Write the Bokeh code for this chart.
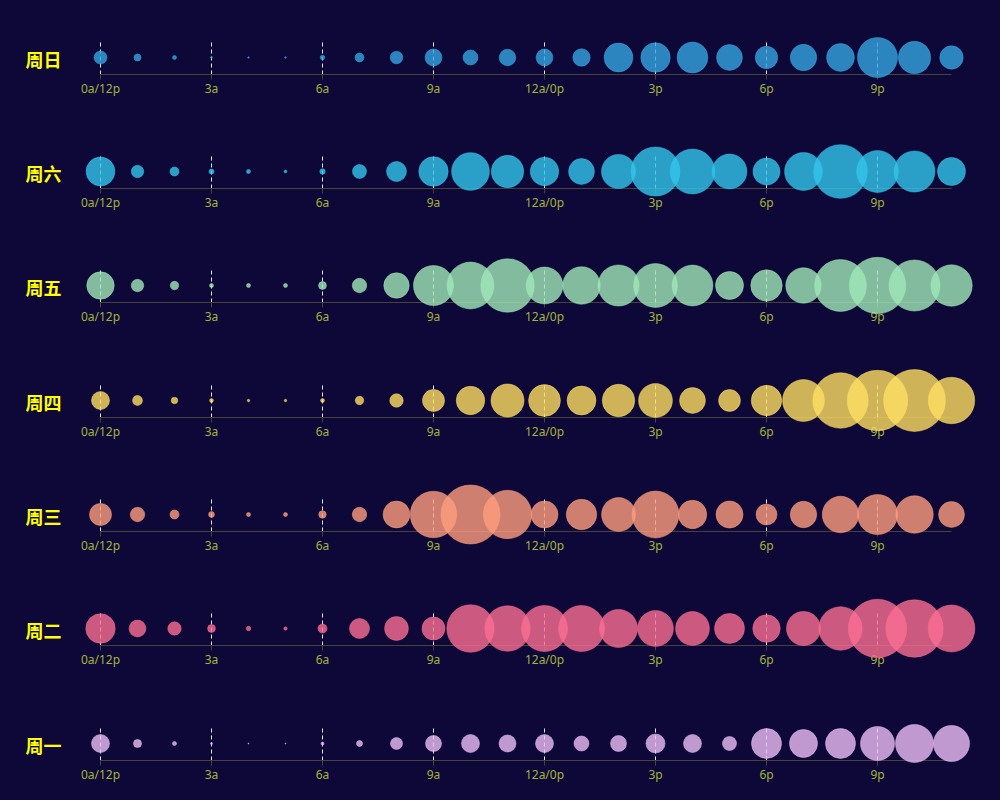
from bokeh.plotting import figure
from bokeh.layouts import column
from bokeh.models import Range1d, FixedTicker, ColumnDataSource, GlobalInlineStyleSheet
from bokeh.embed import file_html
from bokeh.resources import INLINE

BG = "#0e0838"

hours = list(range(24))
tick_hours = [0, 3, 6, 9, 12, 15, 18, 21]
tick_labels = ["0a/12p", "3a", "6a", "9a", "12a/0p", "3p", "6p", "9p"]
days = ["周日", "周六", "周五", "周四", "周三", "周二", "周一"]

sunday = [6.5, 3.5, 2.0, 1.0, 0.8, 0.8, 2.3, 4.5, 6.3, 8.5, 7.5, 8.3, 8.4, 8.7, 14.4, 14.7, 15.4, 12.9, 11.2, 13.2, 13.9, 20.0, 16.2, 11.7]
saturday = [14.4, 6.2, 4.5, 2.5, 2.0, 1.4, 2.7, 7.0, 10.0, 14.7, 18.9, 16.2, 14.2, 12.9, 17.0, 24.5, 22.4, 17.4, 13.5, 18.9, 26.9, 20.9, 20.5, 14.0]
friday = [13.7, 6.2, 4.2, 2.0, 2.0, 2.0, 3.9, 7.2, 12.7, 20.0, 23.4, 26.7, 18.4, 18.7, 20.5, 21.9, 20.4, 14.0, 15.7, 17.7, 25.9, 28.2, 25.5, 20.7]
thursday = [9.0, 4.9, 3.2, 1.9, 1.2, 1.2, 1.9, 4.2, 6.7, 11.0, 14.2, 16.5, 15.9, 14.4, 16.2, 16.9, 12.9, 10.9, 15.2, 20.9, 27.7, 30.2, 30.9, 23.2]
wednesday = [11.0, 7.2, 4.5, 2.9, 2.0, 2.0, 3.7, 7.2, 13.4, 23.2, 29.5, 24.2, 13.5, 15.2, 16.9, 23.4, 14.2, 13.5, 10.5, 13.2, 18.2, 20.0, 18.7, 12.9]
tuesday = [14.7, 8.4, 6.7, 3.9, 2.2, 1.7, 4.5, 10.0, 11.9, 11.5, 23.7, 22.7, 23.0, 23.0, 19.0, 17.9, 16.9, 15.0, 13.7, 17.0, 21.7, 29.2, 28.7, 23.4]
monday = [9.0, 4.0, 2.0, 1.0, 0.5, 0.5, 1.5, 3.0, 6.0, 8.0, 9.0, 8.5, 9.0, 7.5, 8.0, 9.5, 9.0, 7.0, 15.0, 14.0, 15.0, 17.0, 19.0, 18.0]

series = [sunday, saturday, friday, thursday, wednesday, tuesday, monday]
colors = ["#36a5e1", "#32c6ec", "#a0e8b8", "#ffdf62", "#ff9e7e", "#fb6e92", "#ecbef6"]
heights = [122, 114, 115, 114, 114, 115, 97]
tops = [40, 32, 32, 32, 32, 32, 32]

figs = []
for day, vals, col, h, t in zip(days, series, colors, heights, tops):
    src = ColumnDataSource(dict(x=hours, size=[v * 2 for v in vals]))
    p = figure(width=992, height=h,
               x_range=Range1d(-20 / 37, 888 / 37), y_range=Range1d(-17, 17),
               min_border_left=80, min_border_right=4, min_border_top=t,
               min_border_bottom=h - t - 34,
               toolbar_location=None, output_backend="svg",
               background_fill_color=BG, border_fill_color=BG,
               outline_line_color=None)
    r = p.scatter(x="x", y=0, size="size", source=src, marker="circle",
                  fill_color=col, fill_alpha=0.8, line_color=col, line_alpha=0.5)
    r.level = "overlay"

    xa = p.xaxis[0]
    xa.ticker = FixedTicker(ticks=tick_hours)
    xa.major_label_overrides = {t_: l for t_, l in zip(tick_hours, tick_labels)}
    xa.bounds = (0, 23)
    xa.axis_line_color = "#46443a"
    xa.major_tick_line_color = "#46443a"
    xa.major_tick_out = 5
    xa.major_tick_in = 0
    xa.minor_tick_line_color = None
    xa.major_label_standoff = 0
    xa.major_label_text_color = "#a3b43a"
    xa.major_label_text_font = "Noto Sans"
    xa.major_label_text_font_size = "12px"

    ya = p.yaxis[0]
    ya.ticker = FixedTicker(ticks=[-1])
    ya.major_label_overrides = {-1: day}
    ya.axis_line_color = None
    ya.major_tick_line_color = None
    ya.minor_tick_line_color = None
    ya.major_tick_out = 0
    ya.major_tick_in = 0
    ya.major_label_standoff = 19
    ya.major_label_text_color = "#ffff00"
    ya.major_label_text_font = "Noto Sans CJK SC"
    ya.major_label_text_font_style = "bold"
    ya.major_label_text_font_size = "18px"

    p.xgrid.ticker = FixedTicker(ticks=tick_hours)
    p.xgrid.grid_line_color = "#e6e6e6"
    p.xgrid.grid_line_dash = "4 3"
    p.xgrid.grid_line_width = 1
    p.ygrid.visible = False
    figs.append(p)

layout = column(*figs, spacing=0,
                stylesheets=[GlobalInlineStyleSheet(css="html, body { background-color: #0e0838; }")])

open("out.html", "w").write(file_html(layout, INLINE))
